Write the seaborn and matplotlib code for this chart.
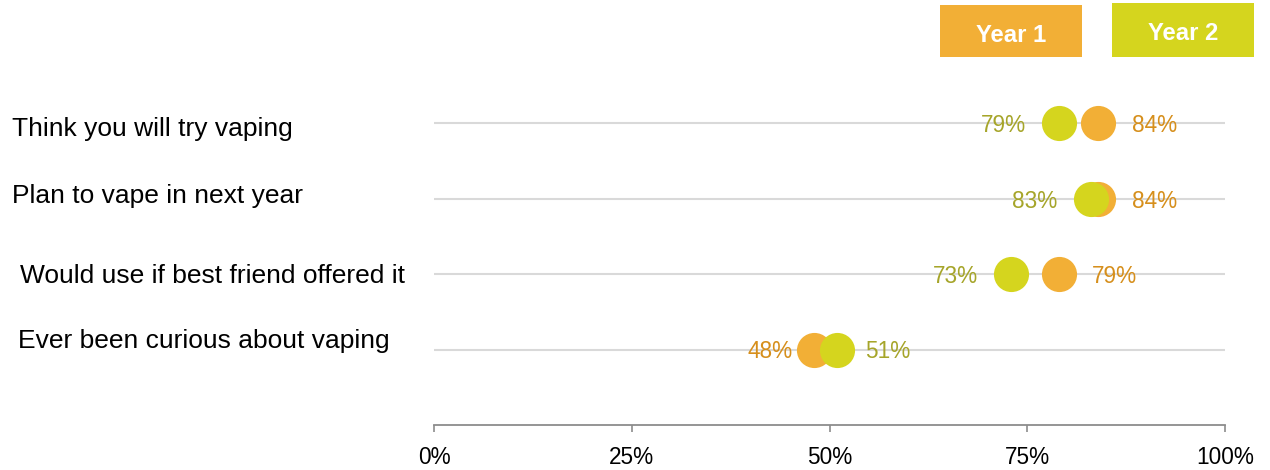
import matplotlib
matplotlib.use("Agg")
import matplotlib.pyplot as plt
import matplotlib.transforms as mtransforms
from matplotlib.patches import Rectangle
import pandas as pd
import seaborn as sns

# Survey items and shares (%) per survey year
categories = [
    "Think you will try vaping",
    "Plan to vape in next year",
    "Would use if best friend offered it",
    "Ever been curious about vaping",
]
year1 = [84, 84, 79, 48]
year2 = [79, 83, 73, 51]
series_names = ["Year 1", "Year 2"]
xticks = [0, 25, 50, 75, 100]
xtick_labels = ["0%", "25%", "50%", "75%", "100%"]

# Hand-tuned placement of the item labels (figure px from left, row offset)
label_x_px = [12, 12, 20, 18]
label_dy = [0.04, -0.07, -0.01, -0.15]
# Gap (points) between a dot and its value label, (left, right) per row
value_gap = [(24, 24), (24, 24), (24, 24), (15, 20)]

C1, C2 = "#F2AF36", "#D5D51E"
T1, T2 = "#D68F1C", "#A6A52A"

sns.set_theme(style="white")
plt.rcParams["font.family"] = ["Liberation Sans", "DejaVu Sans"]

W, H = 1270, 470
fig = plt.figure(figsize=(W / 100, H / 100), dpi=100)
ax = fig.add_axes([434 / W, 45 / H, (1225 - 434) / W, (425 - 47.5) / H])

rows = list(range(len(categories)))
df1 = pd.DataFrame({"value": year1, "row": rows})
df2 = pd.DataFrame({"value": year2, "row": rows})

sns.scatterplot(data=df1, x="value", y="row", ax=ax, s=640, color=C1,
                linewidth=0, zorder=3, legend=False)
sns.scatterplot(data=df2, x="value", y="row", ax=ax, s=640, color=C2,
                linewidth=0, zorder=4, legend=False)

# Value labels: the larger value sits right of its dot, the smaller to the left
for r, (a, b) in enumerate(zip(year1, year2)):
    gl, gr = value_gap[r]
    for v, other, col in ((a, b, T1), (b, a, T2)):
        right = v >= other
        ax.annotate(f"{v}%", xy=(v, r), xytext=(gr if right else -gl, 0),
                    textcoords="offset points", ha="left" if right else "right",
                    va="center_baseline", fontsize=16.3, color=col, zorder=5)

ax.set_xlim(0, 100)
ax.set_ylim(4, -1)
ax.set_yticks(rows)
ax.set_yticklabels([])
ax.tick_params(axis="y", length=0)
ax.yaxis.grid(True, color="#D9D9D9", linewidth=1.5)
ax.xaxis.grid(False)
ax.set_axisbelow(True)
ax.set_xlabel("")
ax.set_ylabel("")

ax.set_xticks(xticks)
ax.set_xticklabels(xtick_labels, fontsize=16.3, color="black")
ax.tick_params(axis="x", bottom=True, length=5, width=1.2, color="#8C8C8C", pad=10)
for side in ("top", "right", "left"):
    ax.spines[side].set_visible(False)
ax.spines["bottom"].set_color("#8C8C8C")
ax.spines["bottom"].set_linewidth(1.3)

# Item labels on the left
trans = mtransforms.blended_transform_factory(fig.transFigure, ax.transData)
for r, (lab, xp, dy) in enumerate(zip(categories, label_x_px, label_dy)):
    ax.text(xp / W, r + dy, lab, transform=trans, ha="left", va="center_baseline",
            fontsize=19, color="black", clip_on=False)

# Colour key boxes at the top right
for name, col, (x0, x1, y0, y1) in zip(series_names, (C1, C2),
                                       ((940, 1082, 5, 57), (1112, 1254, 3, 57))):
    fig.patches.append(Rectangle((x0 / W, 1 - y1 / H), (x1 - x0) / W, (y1 - y0) / H,
                                 transform=fig.transFigure, facecolor=col,
                                 edgecolor="none"))
    fig.text((x0 + x1) / 2 / W, 1 - (y0 + y1 + 3) / 2 / H, name, ha="center",
             va="center_baseline", fontsize=17.2, fontweight="bold", color="white")

fig.savefig("out.png", dpi=100)
